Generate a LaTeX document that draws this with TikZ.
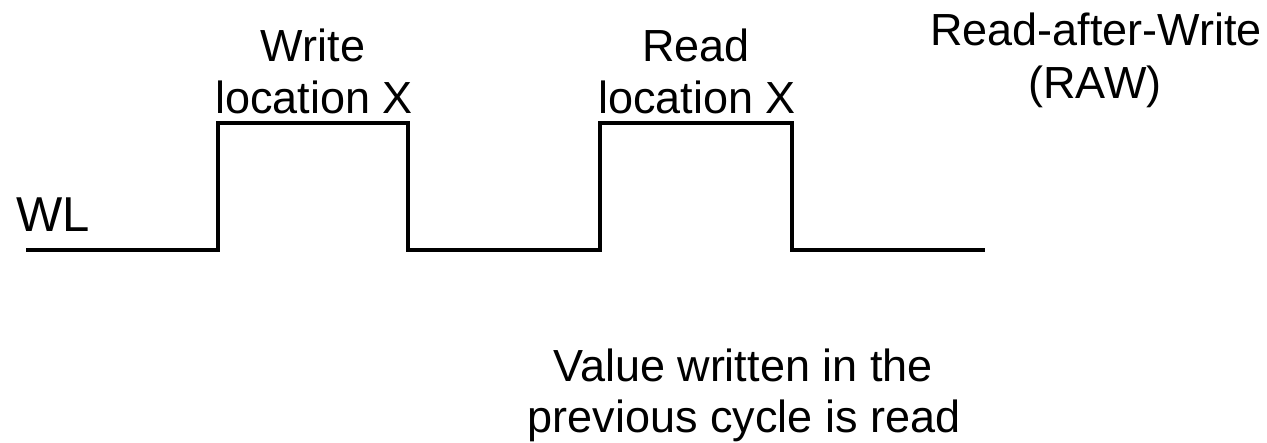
\documentclass[tikz,border=0pt]{standalone}
\usepackage{fontspec}
\setmainfont{Liberation Sans}
\begin{document}
\begin{tikzpicture}[x=1pt,y=-1pt,
  lbl/.style={anchor=base,inner sep=0pt,font=\fontsize{45}{52}\selectfont},
  wave/.style={line width=4pt,line join=miter,line cap=butt}]
\useasboundingbox (0,0) rectangle (1267,442);
% waveform
\coordinate (s) at (26,250);
\coordinate (r1) at (218,250);
\coordinate (r1h) at (218,123);
\coordinate (f1h) at (408,123);
\coordinate (f1) at (408,250);
\coordinate (r2) at (600,250);
\coordinate (r2h) at (600,123);
\coordinate (f2h) at (792,123);
\coordinate (f2) at (792,250);
\coordinate (e) at (985,250);
\draw[wave] (s) -- (r1) -- (r1h) -- (f1h) -- (f1) -- (r2) -- (r2h) -- (f2h) -- (f2) -- (e);
% labels
\node[lbl,anchor=base west,font=\fontsize{49}{56}\selectfont] (wl) at (16,231) {WL};
\node[lbl] (w1) at (313,61) {Write};
\node[lbl] (w2) at (314,113) {location X};
\node[lbl] (rd1) at (696,61) {Read};
\node[lbl] (rd2) at (697,113) {location X};
\node[lbl] (raw1) at (1096,45) {Read-after-Write};
\node[lbl] (raw2) at (1095,98) {(RAW)};
\node[lbl] (v1) at (743,381) {Value written in the};
\node[lbl] (v2) at (744,432) {previous cycle is read};
\end{tikzpicture}
\end{document}
